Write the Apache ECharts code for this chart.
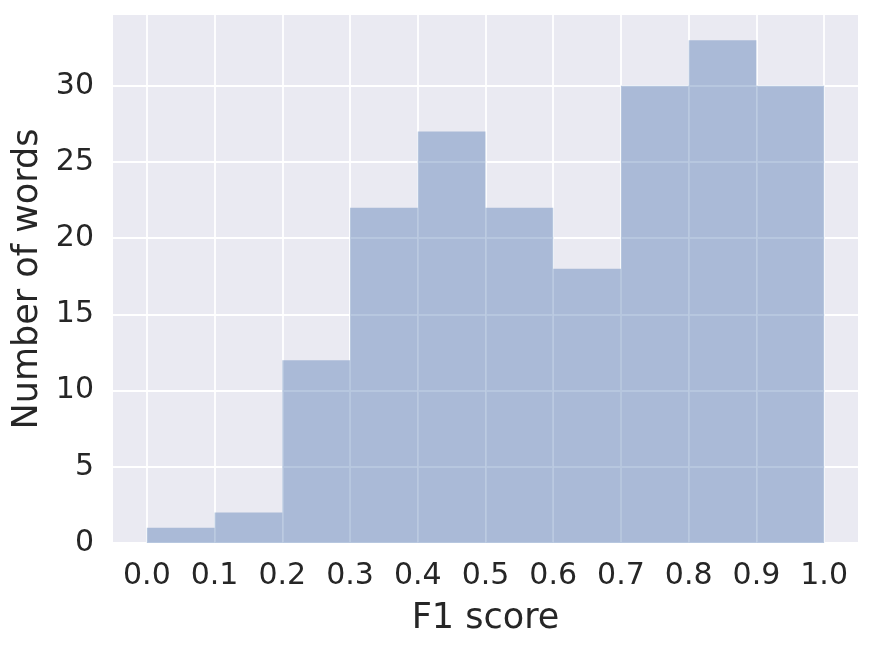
<!DOCTYPE html>
<html>
<head>
<meta charset="utf-8">
<script src="https://cdn.jsdelivr.net/npm/echarts@6/dist/echarts.min.js"></script>
<style>html,body{margin:0;padding:0;background:#fff}#c{width:872px;height:647px}</style>
</head>
<body>
<div id="c"></div>
<script>
var binStarts = [0.0, 0.1, 0.2, 0.3, 0.4, 0.5, 0.6, 0.7, 0.8, 0.9];
var binEnds   = [0.1, 0.2, 0.3, 0.4, 0.5, 0.6, 0.7, 0.8, 0.9, 1.0];
var counts    = [1, 2, 12, 22, 27, 22, 18, 30, 33, 30];
var xTicks = [0.0, 0.1, 0.2, 0.3, 0.4, 0.5, 0.6, 0.7, 0.8, 0.9, 1.0];
var yTicks = [0, 5, 10, 15, 20, 25, 30];

var data = binStarts.map(function (s, i) { return [s, binEnds[i], counts[i]]; });
var FONT = 'DejaVu Sans';
var TXT = '#262626';

var chart = echarts.init(document.getElementById('c'), null, {renderer: 'canvas'});
chart.setOption({
  animation: false,
  backgroundColor: '#ffffff',
  grid: {left: 113, right: 14, top: 15, bottom: 104, show: true, backgroundColor: '#EAEAF2', borderWidth: 0},
  xAxis: {
    type: 'value', min: -0.05, max: 1.05,
    name: 'F1 score', nameLocation: 'middle', nameGap: 58,
    nameTextStyle: {fontFamily: FONT, fontSize: 35, color: TXT},
    axisLine: {show: false},
    axisTick: {show: false, customValues: xTicks},
    axisLabel: {customValues: xTicks, fontFamily: FONT, fontSize: 30, color: TXT, margin: 18,
      formatter: function (v) { return v.toFixed(1); }},
    splitLine: {show: true, lineStyle: {color: '#ffffff', width: 1.8}}
  },
  yAxis: {
    type: 'value', min: 0, max: 34.65,
    name: 'Number of words', nameLocation: 'middle', nameGap: 65,
    nameTextStyle: {fontFamily: FONT, fontSize: 35, color: TXT},
    axisLine: {show: false},
    axisTick: {show: false, customValues: yTicks},
    axisLabel: {customValues: yTicks, fontFamily: FONT, fontSize: 30, color: TXT, margin: 19},
    splitLine: {show: true, lineStyle: {color: '#ffffff', width: 1.8}}
  },
  series: [{
    type: 'custom',
    data: data,
    encode: {x: [0, 1], y: 2},
    renderItem: function (params, api) {
      var p0 = api.coord([api.value(0), api.value(2)]);
      var p1 = api.coord([api.value(1), 0]);
      return {
        type: 'rect',
        shape: {x: p0[0], y: p0[1], width: p1[0] - p0[0], height: p1[1] - p0[1]},
        style: {fill: 'rgba(76,114,176,0.4)'}
      };
    }
  }]
});
</script>
</body>
</html>
